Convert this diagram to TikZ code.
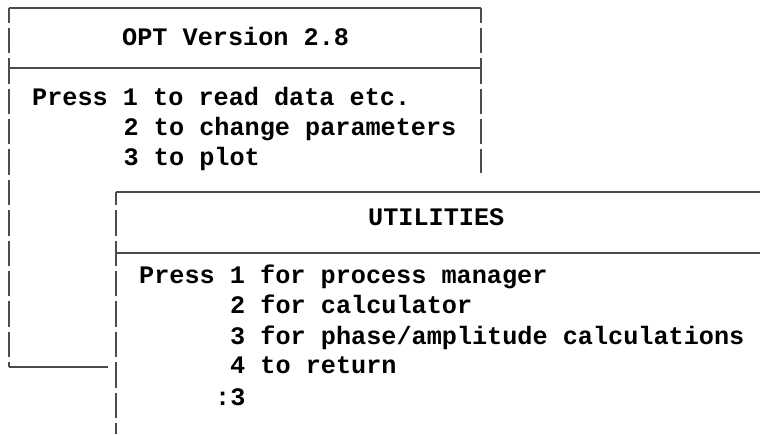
\documentclass[tikz,border=0pt]{standalone}
\usepackage{fontspec}
\setmonofont{Liberation Mono}
\begin{document}
\begin{tikzpicture}[x=1pt,y=-1pt,
  scr/.style={anchor=base west, inner sep=0pt, font=\ttfamily\bfseries\fontsize{25.2}{30}\selectfont, text=black},
  hline/.style={draw=black!70, line width=1.5pt},
  vline/.style={draw=black!70, line width=1.8pt, dash pattern=on 25.4pt off 5pt},
]
\useasboundingbox (0,0) rectangle (760,434);
% left window
\coordinate (LTL) at (9,8);
\coordinate (LTR) at (481,8);
\coordinate (LSL) at (9,68);
\coordinate (LSR) at (481,68);
\coordinate (LRB) at (481,173);
\coordinate (LBL) at (9,367);
\coordinate (LBR) at (108,367);
% right window
\coordinate (RTL) at (116,192);
\coordinate (RTR) at (760,192);
\coordinate (RSL) at (116,253);
\coordinate (RSR) at (760,253);
\coordinate (RBL) at (116,434);

\draw[hline] (LTL) -- (LTR);
\draw[hline] (LSL) -- (LSR);
\draw[hline] (LBL) -- (LBR);
\draw[vline, dash phase=10.7pt] (LTL) -- (LBL);
\draw[vline, dash phase=10.7pt] (LTR) -- (LRB);

\draw[hline] (RTL) -- (RTR);
\draw[hline] (RSL) -- (RSR);
\draw[vline, dash phase=12.3pt] (RTL) -- (RBL);

\node[scr] (t1) at (122,45) {OPT Version 2.8};
\node[scr] (t2) at (32,105) {Press 1 to read data etc.};
\node[scr] (t3) at (123.5,135) {2 to change parameters};
\node[scr] (t4) at (123.5,165) {3 to plot};

\node[scr] (u1) at (368,225) {UTILITIES};
\node[scr] (u2) at (139,283) {Press 1 for process manager};
\node[scr] (u3) at (230,313) {2 for calculator};
\node[scr] (u4) at (230,344) {3 for phase/amplitude calculations};
\node[scr] (u5) at (230,373) {4 to return};
\node[scr] (u6) at (215,405) {:3};
\end{tikzpicture}
\end{document}
